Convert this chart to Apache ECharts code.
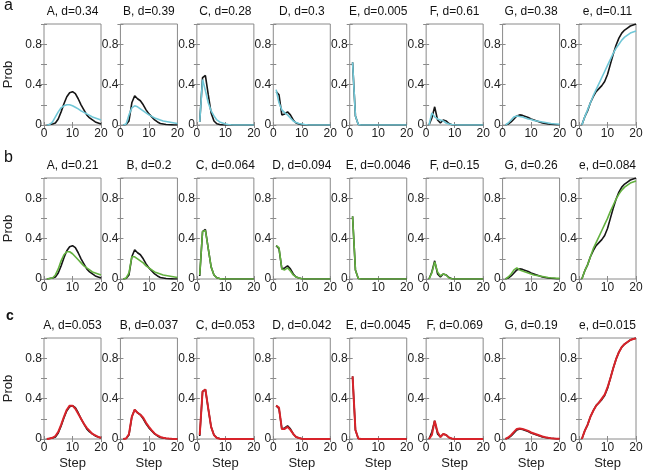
<!DOCTYPE html>
<html>
<head>
<meta charset="utf-8">
<script src="https://cdn.jsdelivr.net/npm/echarts@6/dist/echarts.min.js"></script>
<style>html,body{margin:0;padding:0;background:#fff}#c{width:649px;height:474px}</style>
</head>
<body>
<div id="c"></div>
<script>
// ---------- data ----------
const steps = [1,2,3,4,5,6,7,8,9,10,11,12,13,14,15,16,17,18,19,20];
const panelNames = ['A','B','C','D','E','F','G','e'];
const rowLetters = ['a','b','c'];
const dRowA = ['0.34','0.39','0.28','0.3','0.005','0.61','0.38','0.11'];
const dRowB = ['0.21','0.2','0.064','0.094','0.0046','0.15','0.26','0.084'];
const dRowC = ['0.053','0.037','0.053','0.042','0.0045','0.069','0.19','0.015'];
const xTicks = ['0','10','20'];
const yTicks = ['0','0.4','0.8'];

// target (black) curves
const targetA = [0,0.005,0.01,0.02,0.06,0.13,0.21,0.28,0.32,0.33,0.31,0.26,0.2,0.15,0.1,0.07,0.05,0.03,0.02,0.01];
const targetB = [0,0.005,0.04,0.22,0.29,0.26,0.24,0.2,0.15,0.11,0.08,0.05,0.03,0.015,0.01,0.005,0.002,0.001,0,0];
const targetC = [0.03,0.47,0.49,0.3,0.12,0.04,0.012,0.004,0.001,0,0,0,0,0,0,0,0,0,0,0];
const targetD = [0.33,0.3,0.1,0.11,0.13,0.1,0.05,0.02,0.01,0.003,0,0,0,0,0,0,0,0,0,0];
const targetE = [0.62,0.09,0.005,0,0,0,0,0,0,0,0,0,0,0,0,0,0,0,0,0];
const targetF = [0,0.07,0.18,0.05,0.02,0.05,0.04,0.015,0.003,0,0,0,0,0,0,0,0,0,0,0];
const targetG = [0,0.01,0.03,0.06,0.09,0.1,0.095,0.085,0.075,0.06,0.05,0.04,0.03,0.02,0.015,0.01,0.007,0.005,0.003,0.002];
const targetE2 = [0,0.08,0.14,0.22,0.28,0.33,0.36,0.39,0.43,0.5,0.6,0.7,0.79,0.86,0.91,0.94,0.96,0.98,0.99,1.0];

// model a (cyan)
const cyanA = [0,0.005,0.03,0.08,0.13,0.17,0.19,0.2,0.2,0.19,0.175,0.16,0.14,0.125,0.11,0.095,0.08,0.07,0.06,0.05];
const cyanB = [0,0.01,0.1,0.17,0.19,0.18,0.16,0.14,0.12,0.1,0.085,0.07,0.06,0.05,0.04,0.035,0.03,0.025,0.02,0.015];
const cyanC = [0.03,0.45,0.34,0.22,0.14,0.09,0.05,0.03,0.02,0.01,0.005,0.002,0,0,0,0,0,0,0,0];
const cyanD = [0.35,0.22,0.15,0.12,0.1,0.07,0.04,0.025,0.015,0.01,0.005,0.002,0,0,0,0,0,0,0,0];
const cyanE = [0.62,0.09,0.005,0,0,0,0,0,0,0,0,0,0,0,0,0,0,0,0,0];
const cyanF = [0,0.12,0.08,0.06,0.05,0.04,0.02,0.01,0.005,0.002,0,0,0,0,0,0,0,0,0,0];
const cyanG = [0,0.02,0.05,0.08,0.09,0.085,0.08,0.07,0.06,0.055,0.045,0.04,0.035,0.03,0.025,0.02,0.015,0.012,0.01,0.008];
const cyanE2 = [0,0.08,0.15,0.22,0.29,0.35,0.41,0.47,0.53,0.59,0.65,0.71,0.76,0.8,0.84,0.87,0.89,0.91,0.92,0.93];

// model b (green)
const greenA = [0,0.005,0.01,0.04,0.1,0.18,0.24,0.27,0.27,0.25,0.22,0.19,0.16,0.13,0.11,0.09,0.07,0.06,0.05,0.04];
const greenB = [0,0.01,0.06,0.22,0.22,0.2,0.18,0.16,0.13,0.11,0.09,0.07,0.06,0.05,0.04,0.035,0.03,0.025,0.02,0.015];
const greenC = [0.04,0.47,0.48,0.3,0.12,0.04,0.012,0.004,0.001,0,0,0,0,0,0,0,0,0,0,0];
const greenD = [0.33,0.31,0.1,0.09,0.11,0.08,0.04,0.02,0.01,0.003,0,0,0,0,0,0,0,0,0,0];
const greenE = [0.62,0.09,0.005,0,0,0,0,0,0,0,0,0,0,0,0,0,0,0,0,0];
const greenF = [0,0.06,0.17,0.07,0.03,0.05,0.04,0.01,0.003,0,0,0,0,0,0,0,0,0,0,0];
const greenG = [0,0.02,0.05,0.09,0.11,0.09,0.08,0.07,0.06,0.05,0.04,0.035,0.03,0.025,0.02,0.015,0.012,0.01,0.008,0.006];
const greenE2 = [0,0.08,0.14,0.22,0.3,0.36,0.42,0.48,0.54,0.6,0.67,0.73,0.79,0.84,0.88,0.91,0.93,0.95,0.96,0.97];

// model c (red)
const redA = [0,0.005,0.012,0.03,0.07,0.14,0.22,0.29,0.33,0.33,0.3,0.25,0.2,0.15,0.11,0.08,0.05,0.035,0.02,0.012];
const redB = [0,0.005,0.05,0.22,0.29,0.26,0.24,0.21,0.16,0.12,0.085,0.055,0.035,0.02,0.012,0.007,0.004,0.002,0.001,0];
const redC = [0.04,0.47,0.49,0.3,0.12,0.04,0.01,0.003,0,0,0,0,0,0,0,0,0,0,0,0];
const redD = [0.33,0.31,0.1,0.1,0.12,0.09,0.05,0.02,0.01,0.003,0,0,0,0,0,0,0,0,0,0];
const redE = [0.62,0.09,0.005,0,0,0,0,0,0,0,0,0,0,0,0,0,0,0,0,0];
const redF = [0,0.04,0.18,0.07,0.02,0.05,0.04,0.015,0.005,0,0,0,0,0,0,0,0,0,0,0];
const redG = [0,0.015,0.04,0.07,0.1,0.105,0.1,0.09,0.08,0.065,0.055,0.045,0.035,0.025,0.018,0.012,0.008,0.005,0.003,0.002];
const redE2 = [0,0.08,0.14,0.22,0.28,0.33,0.36,0.4,0.44,0.51,0.6,0.7,0.79,0.86,0.91,0.94,0.96,0.98,0.99,0.995];

const targets = [targetA,targetB,targetC,targetD,targetE,targetF,targetG,targetE2];
const models = [
  [cyanA,cyanB,cyanC,cyanD,cyanE,cyanF,cyanG,cyanE2],
  [greenA,greenB,greenC,greenD,greenE,greenF,greenG,greenE2],
  [redA,redB,redC,redD,redE,redF,redG,redE2]
];
const dRows = [dRowA,dRowB,dRowC];
const modelColors = ['#70c7d7','#63b13f','#d8232a'];

// ---------- layout ----------
const FONT = 'Liberation Sans, Arial, sans-serif';
const rowTops = [24, 178, 338];
const PW = 57, PH = 101, X0 = 44, DX = 76.43;

const grid = [], xAxis = [], yAxis = [], series = [], graphic = [];
const pairs = arr => steps.map((s,i)=>[s, arr[i]]);
const yFmt = v => { for (const t of yTicks) if (Math.abs(v - parseFloat(t)) < 1e-6) return t; return ''; };
const xFmt = v => { for (const t of xTicks) if (Math.abs(v - parseFloat(t)) < 1e-6) return t; return ''; };

let g = 0;
for (let r = 0; r < 3; r++) {
  for (let c = 0; c < 8; c++) {
    const left = X0 + c*DX, top = rowTops[r];
    grid.push({left: left, top: top, width: PW, height: PH, show: true,
      borderColor: '#8a8a8a', borderWidth: 1, backgroundColor: '#fff'});
    const xa = g*2, ya = g*2;
    xAxis.push({type:'value', gridIndex:g, min:0, max:20, interval:10, position:'bottom',
      axisLine:{show:false}, splitLine:{show:false},
      axisTick:{show:true, inside:true, length:3, lineStyle:{color:'#8a8a8a'}},
      axisLabel:{show:true, fontFamily:FONT, fontSize:12, color:'#222', margin:3, formatter:xFmt},
      name: r===2 ? 'Step' : '', nameLocation:'middle', nameGap:18,
      nameTextStyle:{fontFamily:FONT, fontSize:13, color:'#222'}});
    xAxis.push({type:'value', gridIndex:g, min:0, max:20, interval:10, position:'top',
      axisLine:{show:false}, splitLine:{show:false}, axisLabel:{show:false},
      axisTick:{show:true, inside:true, length:3, lineStyle:{color:'#8a8a8a'}}});
    yAxis.push({type:'value', gridIndex:g, min:0, max:1, interval:0.2, position:'left',
      axisLine:{show:false}, splitLine:{show:false},
      axisTick:{show:true, inside:true, length:3, lineStyle:{color:'#8a8a8a'}},
      axisLabel:{show:true, fontFamily:FONT, fontSize:12, color:'#222', margin:2, formatter:yFmt},
      name: c===0 ? 'Prob' : '', nameLocation:'middle', nameGap:29,
      nameTextStyle:{fontFamily:FONT, fontSize:13, color:'#222'}});
    yAxis.push({type:'value', gridIndex:g, min:0, max:1, interval:0.2, position:'right',
      axisLine:{show:false}, splitLine:{show:false}, axisLabel:{show:false},
      axisTick:{show:true, inside:true, length:3, lineStyle:{color:'#8a8a8a'}}});
    series.push({type:'line', xAxisIndex:xa, yAxisIndex:ya, data:pairs(targets[c]),
      showSymbol:false, symbol:'none', lineStyle:{color:'#151515', width:1.6}, silent:true, animation:false, z:2});
    series.push({type:'line', xAxisIndex:xa, yAxisIndex:ya, data:pairs(models[r][c]),
      showSymbol:false, symbol:'none', lineStyle:{color:modelColors[r], width:r===2?2:1.6}, silent:true, animation:false, z:3});
    graphic.push({type:'text', x: left + PW/2, y: top - 6,
      style:{text: panelNames[c] + ', d=' + dRows[r][c], font:'12px ' + FONT, fill:'#111',
             textAlign:'center', textVerticalAlign:'bottom'}});
    g++;
  }
}
graphic.push({type:'text', x:4, y:14, style:{text:rowLetters[0], font:'16px ' + FONT, fill:'#111', textVerticalAlign:'bottom'}});
graphic.push({type:'text', x:4, y:166, style:{text:rowLetters[1], font:'16px ' + FONT, fill:'#111', textVerticalAlign:'bottom'}});
graphic.push({type:'text', x:6, y:323, style:{text:rowLetters[2], font:'bold 14px ' + FONT, fill:'#111', textVerticalAlign:'bottom'}});

const chart = echarts.init(document.getElementById('c'), null, {renderer:'canvas'});
chart.setOption({animation:false, grid, xAxis, yAxis, series, graphic});
</script>
</body>
</html>
